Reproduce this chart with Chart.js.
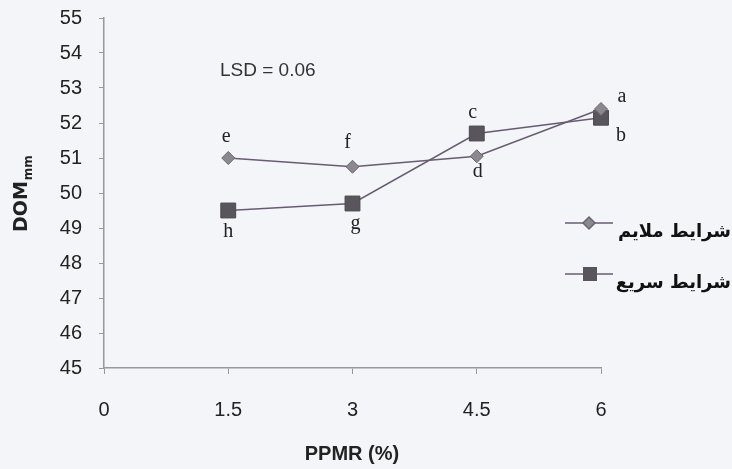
<!DOCTYPE html>
<html>
<head>
<meta charset="utf-8">
<script src="https://cdn.jsdelivr.net/npm/chart.js@4.4.1/dist/chart.umd.min.js"></script>
<style>
  html, body { margin: 0; padding: 0; background: #f4f5f9; }
  #wrap { width: 732px; height: 469px; position: relative; }
</style>
</head>
<body>
<div id="wrap"><canvas id="chart" width="732" height="469"></canvas></div>
<script>
// data
const xValues = [1.5, 3, 4.5, 6];
const mildValues = [51.0, 50.75, 51.05, 52.4];
const fastValues = [49.5, 49.7, 51.7, 52.15];
const mildLetters = ['e', 'f', 'd', 'a'];
const fastLetters = ['h', 'g', 'c', 'b'];
const seriesNames = ['شرایط ملایم', 'شرایط سریع'];
const lsdText = 'LSD = 0.06';

// letter placement relative to each point (px)
const mildOffsets = [[-2, -21], [-5, -24], [1, 15], [21, -12]];
const fastOffsets = [[0, 21], [3, 20], [-4, -21], [20, 18]];

const lineColor = '#675c70';

const extras = {
  id: 'extras',
  afterDraw(chart) {
    const ctx = chart.ctx;
    const xs = chart.scales.x, ys = chart.scales.y;
    const area = chart.chartArea;
    ctx.save();

    // point letters
    ctx.fillStyle = '#222';
    ctx.font = '20px "Liberation Serif", serif';
    ctx.textAlign = 'center';
    ctx.textBaseline = 'middle';
    xValues.forEach((x, i) => {
      ctx.fillText(mildLetters[i], xs.getPixelForValue(x) + mildOffsets[i][0], ys.getPixelForValue(mildValues[i]) + mildOffsets[i][1]);
      ctx.fillText(fastLetters[i], xs.getPixelForValue(x) + fastOffsets[i][0], ys.getPixelForValue(fastValues[i]) + fastOffsets[i][1]);
    });

    // LSD
    ctx.font = '19px "Liberation Sans", Arial, sans-serif';
    ctx.textAlign = 'left';
    ctx.fillStyle = '#333';
    ctx.fillText(lsdText, area.left + 116, area.top + 53);

    // axis titles
    ctx.fillStyle = '#222';
    ctx.font = 'bold 20px "Liberation Sans", sans-serif';
    ctx.textAlign = 'center';
    ctx.fillText('PPMR (%)', 352, 454);

    ctx.save();
    ctx.translate(27, 232);
    ctx.rotate(-Math.PI / 2);
    ctx.textAlign = 'left';
    ctx.textBaseline = 'alphabetic';
    ctx.font = 'bold 19px "DejaVu Sans", sans-serif';
    const w1 = ctx.measureText('DOM').width;
    ctx.fillText('DOM', 0, 0);
    ctx.font = 'bold 12px "DejaVu Sans", sans-serif';
    ctx.fillText('mm', w1 + 1, 5);
    ctx.restore();

    // legend
    const legendRows = [
      { y: 223, style: 'diamond' },
      { y: 274, style: 'square' }
    ];
    legendRows.forEach((row, i) => {
      ctx.strokeStyle = lineColor;
      ctx.lineWidth = 1.5;
      ctx.beginPath();
      ctx.moveTo(565, row.y);
      ctx.lineTo(613, row.y);
      ctx.stroke();
      if (row.style === 'diamond') {
        ctx.fillStyle = '#8c8890';
        ctx.strokeStyle = '#6a6670';
        ctx.beginPath();
        ctx.moveTo(589, row.y - 6);
        ctx.lineTo(595, row.y);
        ctx.lineTo(589, row.y + 6);
        ctx.lineTo(583, row.y);
        ctx.closePath();
        ctx.fill();
        ctx.stroke();
      } else {
        ctx.fillStyle = '#58555c';
        ctx.fillRect(583, row.y - 7, 14, 14);
      }
      ctx.fillStyle = '#111';
      ctx.font = 'bold 18px "DejaVu Sans", serif';
      ctx.direction = 'rtl';
      ctx.textAlign = 'right';
      ctx.fillText(seriesNames[i], 731, row.y + 9);
      ctx.direction = 'ltr';
    });

    ctx.restore();
  }
};

new Chart(document.getElementById('chart'), {
  type: 'line',
  data: {
    datasets: [
      {
        label: seriesNames[0],
        data: xValues.map((x, i) => ({ x: x, y: mildValues[i] })),
        borderColor: lineColor,
        borderWidth: 1.5,
        pointStyle: 'rectRot',
        pointRadius: 6.5,
        pointBackgroundColor: '#8c8890',
        pointBorderColor: '#6a6670',
        pointBorderWidth: 1,
        tension: 0,
        clip: false
      },
      {
        label: seriesNames[1],
        data: xValues.map((x, i) => ({ x: x, y: fastValues[i] })),
        borderColor: lineColor,
        borderWidth: 1.5,
        pointStyle: 'rect',
        pointRadius: 10.5,
        pointBackgroundColor: '#58555c',
        pointBorderColor: '#4a474e',
        pointBorderWidth: 1,
        tension: 0,
        clip: false
      }
    ]
  },
  options: {
    responsive: false,
    animation: false,
    layout: { padding: { left: 0, top: 18, right: 131, bottom: 0 } },
    plugins: { legend: { display: false }, tooltip: { enabled: false } },
    scales: {
      x: {
        type: 'linear',
        min: 0,
        max: 6,
        afterFit(scale) { scale.height = 101; },
        afterBuildTicks(scale) {
          scale.ticks = [0].concat(xValues).map(v => ({ value: v }));
        },
        ticks: {
          color: '#222',
          font: { family: '"Liberation Sans", Arial, sans-serif', size: 20 },
          padding: 24,
          maxRotation: 0,
          callback: v => String(v)
        },
        grid: { drawOnChartArea: false, tickLength: 6, color: '#999' },
        border: { color: '#999', width: 1.5 }
      },
      y: {
        min: 45,
        max: 55,
        afterFit(scale) {
          scale.width = 104;
          scale.paddingTop = 0;
          scale.paddingBottom = 0;
        },
        ticks: {
          stepSize: 1,
          color: '#222',
          font: { family: '"Liberation Sans", Arial, sans-serif', size: 20 },
          padding: 17
        },
        grid: { drawOnChartArea: false, tickLength: 5, color: '#999' },
        border: { color: '#999', width: 1.5 }
      }
    }
  },
  plugins: [extras]
});
</script>
</body>
</html>
